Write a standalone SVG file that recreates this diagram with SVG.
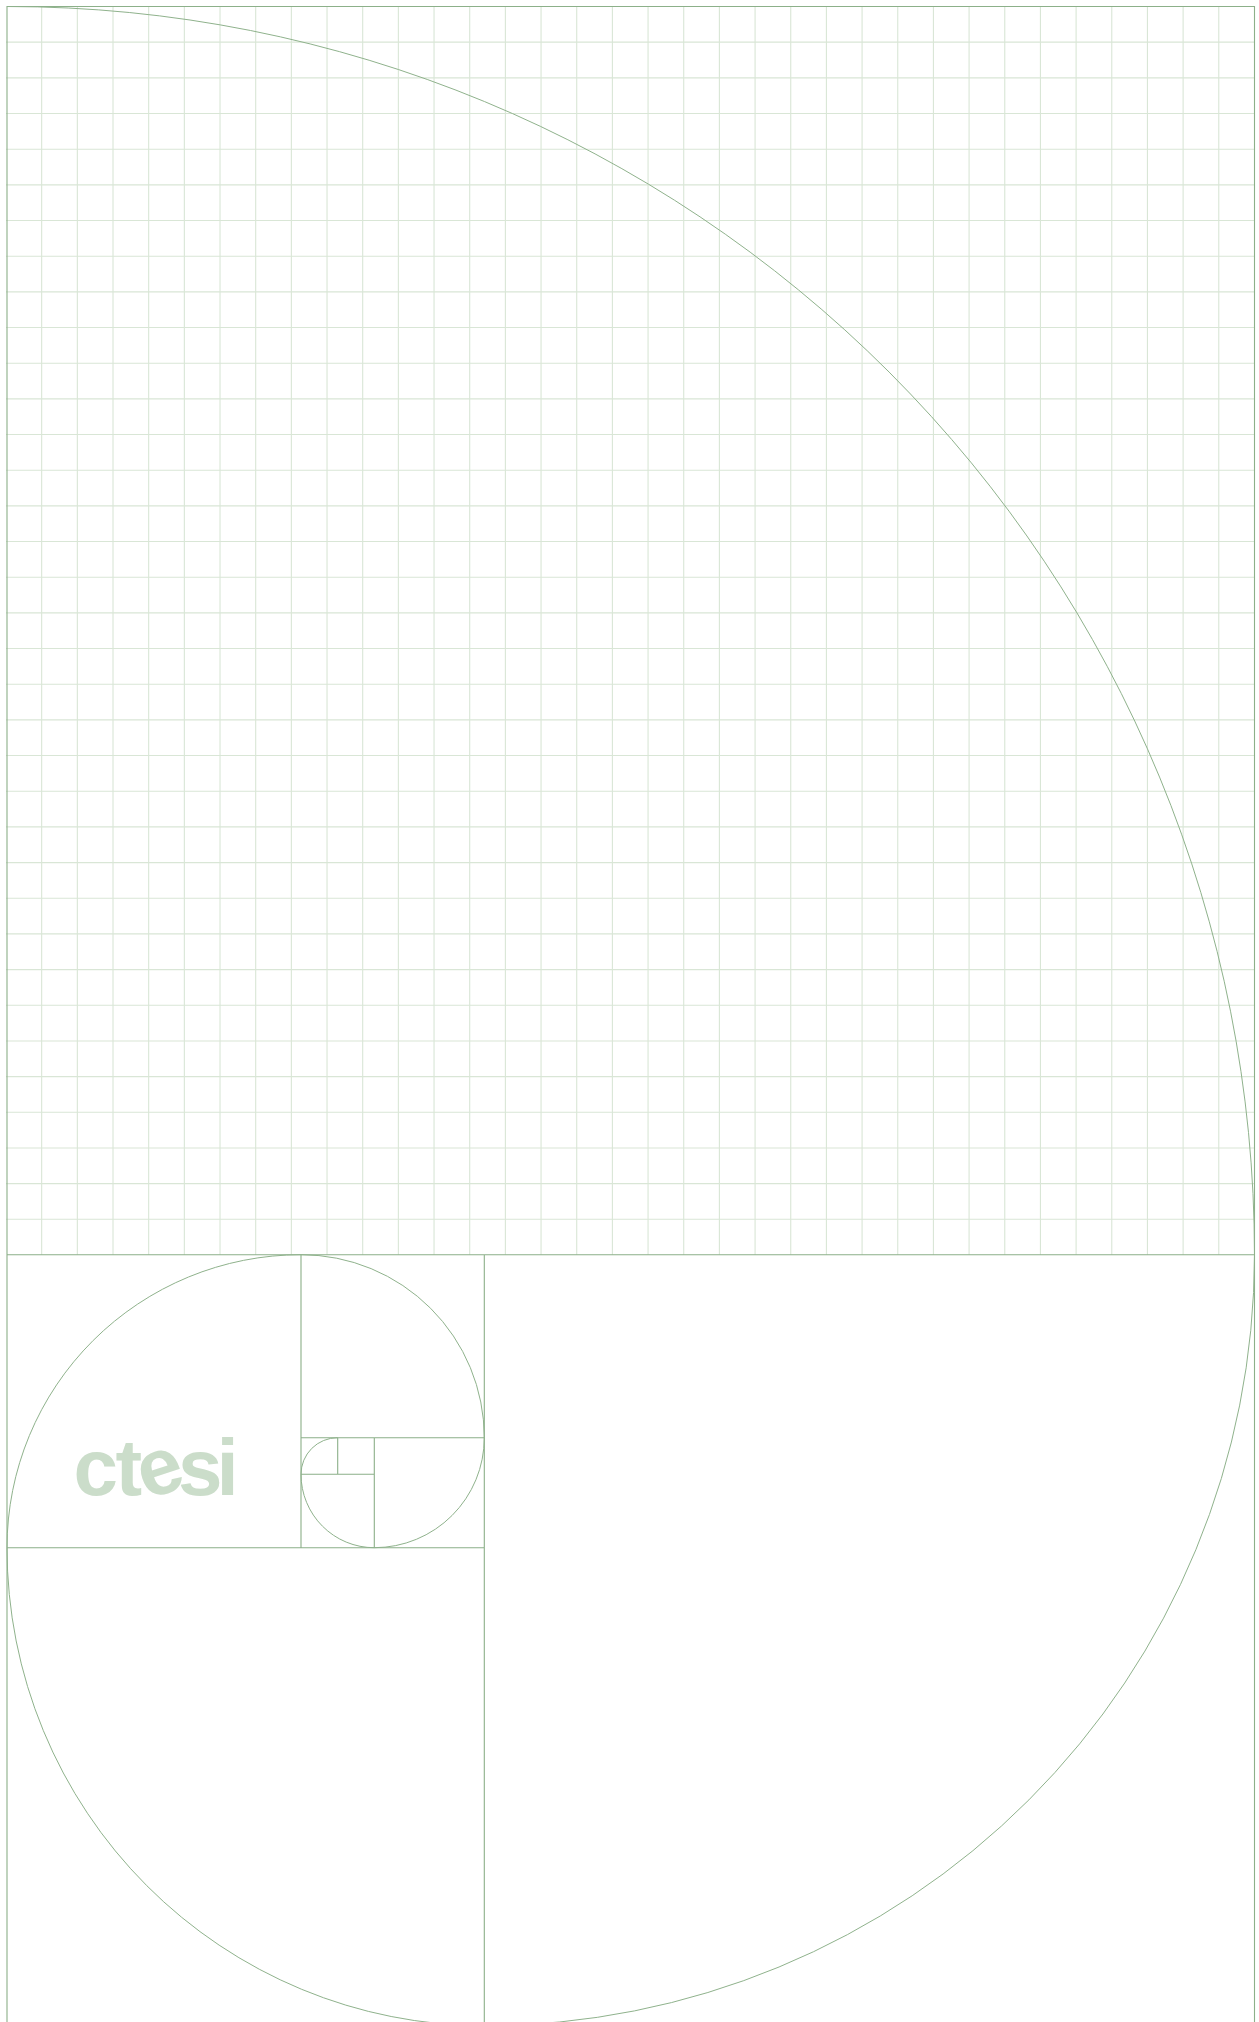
<svg xmlns="http://www.w3.org/2000/svg" width="1259" height="2022" viewBox="0 0 1259 2022">
<style>
.grid{fill:none;stroke:#d9e6d6;stroke-width:1.1}
.frame{fill:none;stroke:#8cb089;stroke-width:1.1}
.arc{fill:none;stroke:#8fb28c;stroke-width:1}
.logo{font-family:"Liberation Sans",Arial,sans-serif;font-weight:700;font-size:80px;fill:#cbddca}
</style>
<rect width="1259" height="2022" fill="#ffffff"/>
<path id="grid-vertical" class="grid" d="M41.67 6.5V1254.7M77.34 6.5V1254.7M113.01 6.5V1254.7M148.68 6.5V1254.7M184.35 6.5V1254.7M220.02 6.5V1254.7M255.69 6.5V1254.7M291.36 6.5V1254.7M327.03 6.5V1254.7M362.7 6.5V1254.7M398.37 6.5V1254.7M434.04 6.5V1254.7M469.71 6.5V1254.7M505.38 6.5V1254.7M541.05 6.5V1254.7M576.72 6.5V1254.7M612.39 6.5V1254.7M648.06 6.5V1254.7M683.73 6.5V1254.7M719.4 6.5V1254.7M755.07 6.5V1254.7M790.74 6.5V1254.7M826.41 6.5V1254.7M862.08 6.5V1254.7M897.75 6.5V1254.7M933.42 6.5V1254.7M969.09 6.5V1254.7M1004.76 6.5V1254.7M1040.43 6.5V1254.7M1076.1 6.5V1254.7M1111.77 6.5V1254.7M1147.44 6.5V1254.7M1183.11 6.5V1254.7M1218.78 6.5V1254.7"/>
<path id="grid-horizontal" class="grid" d="M6 42.17H1254.7M6 77.84H1254.7M6 113.51H1254.7M6 149.18H1254.7M6 184.85H1254.7M6 220.52H1254.7M6 256.19H1254.7M6 291.86H1254.7M6 327.53H1254.7M6 363.2H1254.7M6 398.87H1254.7M6 434.54H1254.7M6 470.21H1254.7M6 505.88H1254.7M6 541.55H1254.7M6 577.22H1254.7M6 612.89H1254.7M6 648.56H1254.7M6 684.23H1254.7M6 719.9H1254.7M6 755.57H1254.7M6 791.24H1254.7M6 826.91H1254.7M6 862.58H1254.7M6 898.25H1254.7M6 933.92H1254.7M6 969.59H1254.7M6 1005.26H1254.7M6 1040.93H1254.7M6 1076.6H1254.7M6 1112.27H1254.7M6 1147.94H1254.7M6 1183.61H1254.7M6 1219.28H1254.7"/>
<path id="frame" class="frame" d="M7 2022V6.5H1254.5V2022M7 1254.7H1254.5M484.3 1254.7V2022M7 1547.7H484.3M301 1254.7V1547.7M301 1437.7H484.3M374.3 1437.7V1547.7M301 1474.3H374.3M337.7 1437.7V1474.3"/>
<path id="spiral" class="arc" d="M7 6.5A1247.5 1248.2 0 0 1 1254.5 1254.7A770.2 771 0 0 1 484.3 2025.7A477.3 478 0 0 1 7 1547.7A294 293 0 0 1 301 1254.7A183.3 183 0 0 1 484.3 1437.7A110 110 0 0 1 374.3 1547.7A73.3 73.4 0 0 1 301 1474.3A36.7 36.6 0 0 1 337.7 1437.7"/>
<text id="logo" class="logo" x="73.5 115.5 146 178 216.5" y="1494.5 1494.5 1499.7 1494.5 1494.5" rotate="0 0 -18 0 0">ctesi</text>
</svg>
